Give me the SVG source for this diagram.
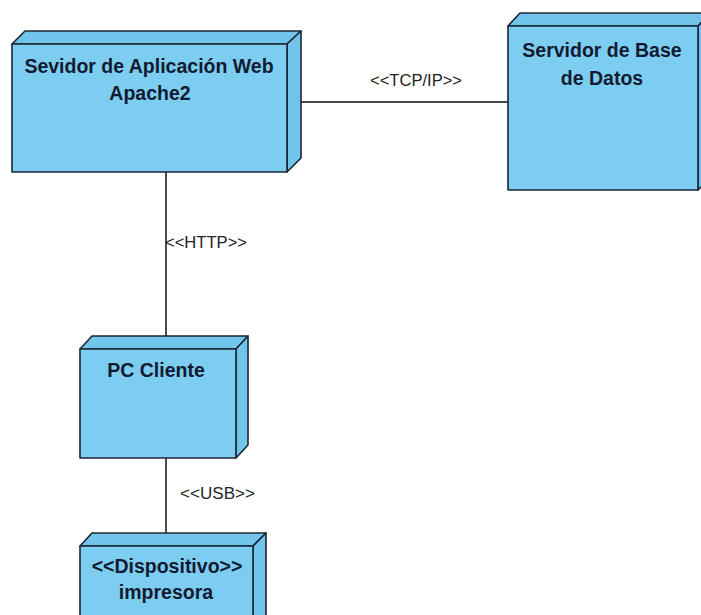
<svg xmlns="http://www.w3.org/2000/svg" width="701" height="615" viewBox="0 0 701 615">
  <style>
    .face { fill: #7dcdf1; stroke: #1b2636; stroke-width: 1.6; stroke-linejoin: round; }
    .side { fill: #72c5ea; stroke: #1b2636; stroke-width: 1.6; stroke-linejoin: round; }
    .title { font-family: "Liberation Sans", Arial, sans-serif; font-weight: bold; font-size: 19.5px; fill: #111a30; text-anchor: middle; }
    .conn { stroke: #111; stroke-width: 1.5; fill: none; }
    .lbl { font-family: "Liberation Sans", Arial, sans-serif; font-size: 17px; fill: #222; }
  </style>
  <rect width="701" height="615" fill="#ffffff"/>

  <g id="connectors">
    <line class="conn" x1="301" y1="102" x2="508" y2="102"/>
    <line class="conn" x1="166" y1="172" x2="166" y2="336"/>
    <line class="conn" x1="166" y1="458" x2="166" y2="533"/>
    <text class="lbl" x="370" y="86" textLength="92" lengthAdjust="spacingAndGlyphs">&lt;&lt;TCP/IP&gt;&gt;</text>
    <text class="lbl" x="165" y="248" textLength="82" lengthAdjust="spacingAndGlyphs">&lt;&lt;HTTP&gt;&gt;</text>
    <text class="lbl" x="180" y="499" textLength="75" lengthAdjust="spacingAndGlyphs">&lt;&lt;USB&gt;&gt;</text>
  </g>

  <g id="node-apache">
    <polygon class="side" points="12,44 25,31 301,31 287,44"/>
    <polygon class="side" points="287,44 301,31 301,158 287,172"/>
    <rect class="face" x="12" y="44" width="275" height="128"/>
    <text class="title" x="149" y="73">Sevidor de Aplicación Web</text>
    <text class="title" x="150" y="100">Apache2</text>
  </g>

  <g id="node-db">
    <polygon class="side" points="508,26 520,13 711,13 698,26"/>
    <polygon class="side" points="698,26 711,13 711,177 698,190"/>
    <rect class="face" x="508" y="26" width="190" height="164"/>
    <text class="title" x="602" y="57">Servidor de Base</text>
    <text class="title" x="602" y="85">de Datos</text>
  </g>

  <g id="node-pc">
    <polygon class="side" points="80,349 92,336 248,336 236,349"/>
    <polygon class="side" points="236,349 248,336 248,445 236,458"/>
    <rect class="face" x="80" y="349" width="156" height="109"/>
    <text class="title" x="156" y="377">PC Cliente</text>
  </g>

  <g id="node-printer">
    <polygon class="side" points="80,546 92,533 266,533 253,546"/>
    <polygon class="side" points="253,546 266,533 266,620 253,633"/>
    <rect class="face" x="80" y="546" width="173" height="90"/>
    <text class="title" x="167" y="573">&lt;&lt;Dispositivo&gt;&gt;</text>
    <text class="title" x="166" y="599">impresora</text>
  </g>
</svg>
